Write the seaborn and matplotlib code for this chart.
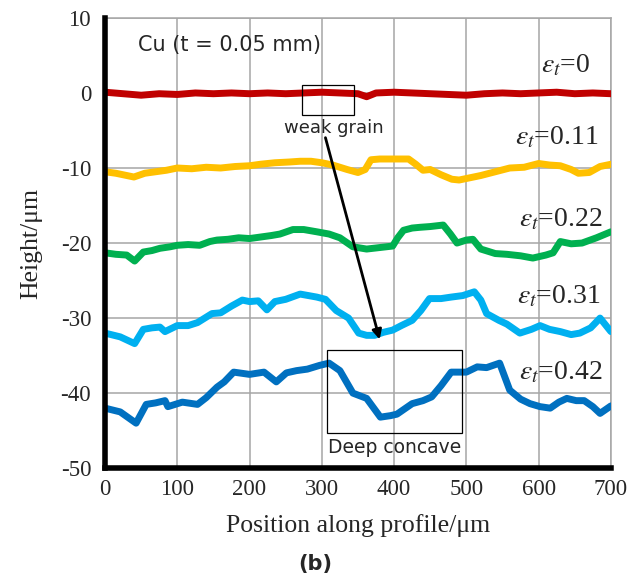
import matplotlib
matplotlib.use("Agg")
import matplotlib.pyplot as plt
import matplotlib.patches as mpatches
import numpy as np
import pandas as pd
import seaborn as sns

# Surface height profiles of Cu foil at increasing true strain
strain_labels = ["0", "0.11", "0.22", "0.31", "0.42"]
line_colors = ["#C00000", "#FFC000", "#00B050", "#00B0F0", "#0070C0"]

pos_e0 = [0, 25, 50, 75, 100, 125, 150, 175, 200, 225, 250, 275, 300, 325, 350,
          362, 375, 400, 425, 450, 475, 500, 525, 550, 575, 600, 625, 650, 675, 700]
h_e0 = [0.1, -0.1, -0.3, -0.1, -0.2, 0.0, -0.1, 0.0, -0.1, 0.0, -0.1, 0.0, 0.1, 0.0,
        -0.1, -0.5, 0.0, 0.1, 0.0, -0.1, -0.2, -0.3, -0.1, 0.0, -0.1, 0.0, 0.1, -0.1,
        0.0, -0.1]

pos_e11 = [0, 15, 30, 40, 55, 70, 85, 100, 120, 140, 160, 180, 200, 215, 235, 255,
           270, 285, 300, 315, 335, 350, 360, 368, 380, 400, 420, 430, 440, 450, 465,
           480, 490, 505, 520, 540, 560, 580, 600, 615, 630, 645, 655, 670, 685, 700]
h_e11 = [-10.5, -10.7, -11.0, -11.2, -10.7, -10.5, -10.3, -10.0, -10.1, -9.9, -10.0,
         -9.8, -9.7, -9.5, -9.3, -9.2, -9.1, -9.1, -9.3, -9.6, -10.2, -10.6, -10.2,
         -8.9, -8.8, -8.8, -8.8, -9.5, -10.3, -10.2, -10.9, -11.5, -11.6, -11.3, -11.0,
         -10.5, -10.0, -9.9, -9.4, -9.6, -9.7, -10.2, -10.7, -10.6, -9.8, -9.5]

pos_e22 = [0, 15, 30, 41, 53, 65, 76, 90, 100, 115, 131, 145, 155, 170, 185, 200,
           215, 230, 242, 260, 275, 293, 310, 325, 343, 362, 380, 398, 405, 413, 425,
           436, 450, 468, 478, 487, 500, 509, 520, 540, 556, 575, 592, 610, 620, 630,
           645, 660, 680, 700]
h_e22 = [-21.3, -21.5, -21.6, -22.4, -21.2, -21.0, -20.7, -20.5, -20.3, -20.2, -20.3,
         -19.8, -19.6, -19.5, -19.3, -19.4, -19.2, -19.0, -18.8, -18.2, -18.2, -18.5,
         -18.8, -19.3, -20.5, -20.8, -20.6, -20.4, -19.3, -18.3, -18.0, -17.9, -17.8,
         -17.6, -18.8, -20.0, -19.6, -19.5, -20.8, -21.4, -21.5, -21.7, -22.0, -21.6,
         -21.3, -19.8, -20.1, -20.0, -19.3, -18.5]

pos_e31 = [0, 21, 41, 53, 65, 76, 83, 100, 115, 128, 148, 160, 175, 190, 200, 212,
           224, 235, 250, 270, 293, 305, 320, 337, 351, 362, 373, 385, 398, 410, 425,
           437, 449, 465, 479, 495, 511, 520, 528, 545, 556, 574, 590, 602, 615, 630,
           645, 657, 672, 685, 700]
h_e31 = [-32.0, -32.5, -33.4, -31.5, -31.3, -31.2, -31.8, -31.0, -31.0, -30.6, -29.4,
         -29.3, -28.4, -27.6, -27.8, -27.7, -28.9, -27.8, -27.5, -26.8, -27.2, -27.5,
         -29.0, -30.0, -32.0, -32.3, -32.3, -31.9, -31.6, -31.0, -30.3, -29.0, -27.4,
         -27.4, -27.2, -27.0, -26.5, -27.6, -29.4, -30.3, -30.8, -32.0, -31.5, -31.0,
         -31.5, -31.8, -32.2, -32.0, -31.3, -30.0, -31.8]

pos_e42 = [0, 21, 43, 57, 70, 83, 87, 107, 128, 140, 155, 165, 178, 200, 220, 237,
           251, 265, 280, 297, 310, 325, 343, 362, 381, 395, 404, 425, 440, 452, 465,
           479, 500, 515, 528, 546, 560, 575, 588, 602, 616, 628, 639, 652, 663, 675,
           685, 700]
h_e42 = [-42.0, -42.5, -44.0, -41.5, -41.3, -41.0, -41.8, -41.2, -41.5, -40.6, -39.2,
         -38.5, -37.2, -37.5, -37.2, -38.5, -37.3, -37.0, -36.8, -36.3, -36.0, -37.0,
         -40.0, -40.7, -43.2, -43.0, -42.8, -41.4, -41.0, -40.5, -39.0, -37.2, -37.2,
         -36.5, -36.6, -36.0, -39.6, -40.8, -41.4, -41.8, -42.0, -41.2, -40.7, -41.0,
         -41.0, -41.8, -42.7, -41.7]

x_ticks = [0, 100, 200, 300, 400, 500, 600, 700]
y_ticks = [-50, -40, -30, -20, -10, 0, 10]

positions = [pos_e0, pos_e11, pos_e22, pos_e31, pos_e42]
heights = [h_e0, h_e11, h_e22, h_e31, h_e42]

frames = []
for lab, xs, ys in zip(strain_labels, positions, heights):
    frames.append(pd.DataFrame({"position": xs, "height": ys, "strain": lab}))
df = pd.concat(frames, ignore_index=True)

sns.set_theme(style="white")
plt.rcParams["mathtext.fontset"] = "stix"
plt.rcParams["axes.unicode_minus"] = False
serif = "Liberation Serif"

fig = plt.figure(figsize=(6.3, 5.78), dpi=100)
ax = fig.add_axes([0.1667, 0.190, 0.803, 0.779])

sns.lineplot(data=df, x="position", y="height", hue="strain",
             palette=dict(zip(strain_labels, line_colors)), linewidth=5,
             legend=False, ax=ax, zorder=3, sort=False)

ax.set_xlim(0, 700)
ax.set_ylim(-50, 10)
ax.set_xticks(x_ticks)
ax.set_yticks(y_ticks)
ax.grid(True, color="#A6A6A6", linewidth=1.1, zorder=0)
ax.set_axisbelow(True)

for side in ["left", "bottom"]:
    ax.spines[side].set_color("black")
    ax.spines[side].set_linewidth(4)
    ax.spines[side].set_zorder(5)
for side in ["top", "right"]:
    ax.spines[side].set_color("#A6A6A6")
    ax.spines[side].set_linewidth(1.1)

ax.tick_params(axis="both", direction="in", length=5, width=2.5, color="black",
               labelsize=16.5)
ax.tick_params(axis="x", pad=8)
ax.tick_params(axis="y", pad=10)
for lbl in ax.get_xticklabels() + ax.get_yticklabels():
    lbl.set_fontfamily(serif)

ax.set_xlabel("Position along profile/μm", fontfamily=serif, fontsize=18.5, labelpad=10)
ax.set_ylabel("Height/μm", fontfamily=serif, fontsize=18.5, labelpad=13)

# Strain labels at the right end of each profile
label_pos = [(672, 3.7), (683, -5.9), (688, -16.9), (685, -27.2), (688, -37.3)]
for lab, (tx, ty) in zip(strain_labels, label_pos):
    ax.text(tx, ty, r"$\varepsilon_t$=" + lab, fontfamily=serif, fontsize=20,
            ha="right", va="center", zorder=6)

ax.text(45, 6.4, "Cu (t = 0.05 mm)", fontfamily="DejaVu Sans", fontsize=15,
        ha="left", va="center", zorder=6)

# Weak grain marker and arrow towards the deep concave region
ax.add_patch(mpatches.Rectangle((273, -2.9), 71, 4.0, fill=False, edgecolor="black",
                                linewidth=0.9, zorder=6))
ax.text(316, -4.7, "weak grain", fontfamily="DejaVu Sans", fontsize=13,
        ha="center", va="center", zorder=6)
ax.annotate("", xy=(381, -33.2), xytext=(304, -5.6),
            arrowprops=dict(arrowstyle="-|>", color="black", lw=2,
                            mutation_scale=14), zorder=6)

ax.add_patch(mpatches.Rectangle((307, -45.3), 187, 11.0, fill=False, edgecolor="black",
                                linewidth=0.9, zorder=6))
ax.text(401, -47.3, "Deep concave", fontfamily="DejaVu Sans", fontsize=13.5,
        ha="center", va="center", zorder=6)

fig.text(0.5, 0.025, "(b)", fontfamily="DejaVu Sans", fontweight="bold",
         fontsize=15, ha="center", va="center")

fig.savefig("out.png", dpi=100)
